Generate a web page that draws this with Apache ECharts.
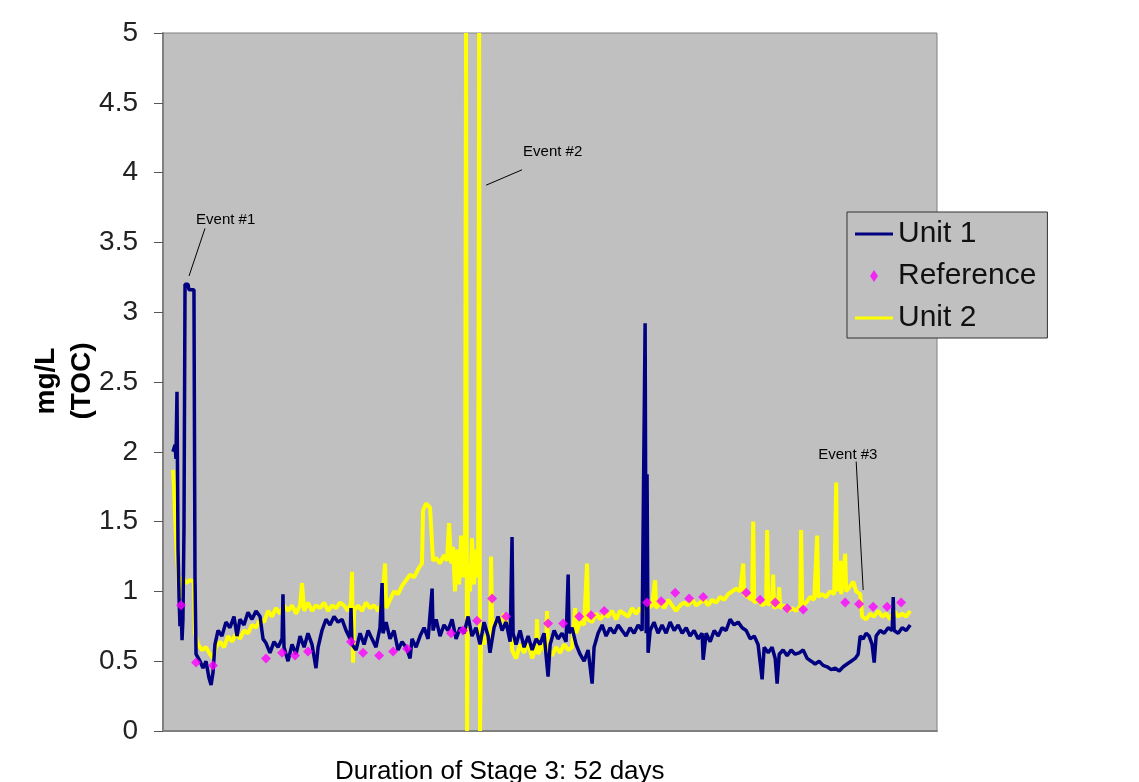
<!DOCTYPE html>
<html>
<head>
<meta charset="utf-8">
<title>TOC Stage 3</title>
<script src="https://cdn.jsdelivr.net/npm/echarts@6/dist/echarts.min.js"></script>
<style>
  html, body { margin: 0; padding: 0; background: #fff; }
  #div_echarts { width: 1139px; height: 782px; }
</style>
</head>
<body>
<div id="div_echarts"></div>
<script>
// [day, mg/L]
var unit1 = [
  [0.67,2.00],[0.81,2.05],[0.87,1.95],[0.94,2.43],[1.01,1.30],[1.08,0.95],[1.14,0.75],[1.21,0.90],[1.28,0.65],[1.34,0.80],
  [1.41,1.45],[1.48,3.20],[1.68,3.20],[1.75,3.16],[2.08,3.16],[2.15,1.10],[2.22,0.55],[2.49,0.50],[2.69,0.45],[2.89,0.50],
  [3.09,0.38],[3.23,0.33],[3.36,0.42],[3.49,0.62],[3.70,0.72],[3.96,0.68],[4.23,0.78],[4.50,0.74],[4.77,0.82],[4.97,0.68],
  [5.17,0.80],[5.44,0.76],[5.71,0.85],[5.98,0.80],[6.25,0.86],[6.52,0.82],[6.72,0.66],[6.92,0.63],[7.19,0.56],[7.46,0.64],
  [7.73,0.60],[8.00,0.66],[8.06,0.98],[8.13,0.60],[8.40,0.50],[8.67,0.62],[8.94,0.55],[9.21,0.68],[9.48,0.60],[9.74,0.70],
  [10.01,0.62],[10.28,0.45],[10.42,0.60],[10.68,0.72],[10.95,0.80],[11.22,0.76],[11.49,0.82],[11.76,0.78],[12.03,0.80],[12.30,0.72],
  [12.57,0.66],[12.63,0.88],[12.70,0.62],[12.97,0.58],[13.24,0.70],[13.51,0.62],[13.78,0.72],[14.04,0.66],[14.31,0.60],[14.58,0.74],
  [14.72,1.06],[14.78,0.70],[14.99,0.78],[15.25,0.66],[15.52,0.72],[15.79,0.58],[16.06,0.64],[16.33,0.60],[16.60,0.52],[16.73,0.66],
  [17.00,0.60],[17.27,0.68],[17.54,0.74],[17.81,0.66],[18.08,1.02],[18.14,0.72],[18.35,0.80],[18.61,0.68],[18.88,0.76],[19.15,0.72],
  [19.42,0.80],[19.69,0.66],[19.96,0.74],[20.23,0.70],[20.50,0.82],[20.76,0.68],[21.03,0.74],[21.30,0.62],[21.57,0.78],[21.84,0.68],
  [21.97,0.56],[22.24,0.74],[22.51,0.82],[22.78,0.72],[23.05,0.78],[23.32,0.64],[23.45,1.39],[23.52,0.70],[23.72,0.62],[23.99,0.72],
  [24.26,0.60],[24.53,0.68],[24.80,0.58],[25.07,0.66],[25.33,0.62],[25.60,0.70],[25.87,0.39],[26.01,0.62],[26.28,0.72],[26.54,0.66],
  [26.81,0.70],[27.08,0.64],[27.22,1.12],[27.28,0.70],[27.48,0.74],[27.75,0.62],[28.02,0.55],[28.29,0.50],[28.56,0.58],[28.83,0.34],
  [28.96,0.60],[29.23,0.70],[29.50,0.76],[29.77,0.68],[30.04,0.74],[30.31,0.70],[30.58,0.76],[30.84,0.72],[31.11,0.68],[31.38,0.74],
  [31.65,0.70],[31.92,0.76],[32.19,0.72],[32.39,2.92],[32.46,0.70],[32.52,1.84],[32.59,0.56],[32.73,0.72],[32.99,0.78],[33.26,0.70],
  [33.53,0.76],[33.80,0.70],[34.07,0.78],[34.34,0.72],[34.61,0.76],[34.88,0.70],[35.15,0.74],[35.41,0.68],[35.68,0.72],[35.95,0.66],
  [36.22,0.70],[36.29,0.51],[36.49,0.70],[36.76,0.64],[37.03,0.72],[37.30,0.68],[37.56,0.74],[37.83,0.72],[38.10,0.80],[38.37,0.76],
  [38.64,0.78],[38.91,0.74],[39.18,0.72],[39.45,0.66],[39.72,0.68],[39.98,0.62],[40.25,0.37],[40.39,0.60],[40.66,0.56],[40.92,0.60],
  [41.13,0.52],[41.26,0.34],[41.40,0.55],[41.66,0.58],[41.93,0.54],[42.20,0.58],[42.47,0.55],[42.74,0.56],[43.01,0.58],[43.28,0.52],
  [43.55,0.50],[43.81,0.48],[44.08,0.50],[44.35,0.47],[44.62,0.46],[44.89,0.44],[45.16,0.45],[45.43,0.43],[45.70,0.46],[45.96,0.48],
  [46.23,0.50],[46.50,0.52],[46.70,0.55],[46.84,0.68],[47.04,0.66],[47.24,0.70],[47.44,0.68],[47.64,0.62],[47.78,0.49],[47.91,0.68],
  [48.18,0.72],[48.45,0.70],[48.72,0.74],[48.99,0.72],[49.06,0.96],[49.12,0.72],[49.39,0.70],[49.66,0.74],[49.93,0.72],[50.20,0.76]
];

var unit2 = [
  [0.67,1.87],[0.74,1.75],[0.81,1.55],[0.87,1.40],[0.94,1.25],[1.01,1.15],[1.08,1.00],[1.14,0.95],[1.21,1.08],[1.34,1.10],
  [1.55,1.06],[1.81,1.08],[2.08,1.07],[2.15,0.70],[2.35,0.62],[2.62,0.58],[2.89,0.60],[3.16,0.55],[3.36,0.52],[3.56,0.60],
  [3.83,0.64],[4.10,0.60],[4.37,0.68],[4.64,0.64],[4.91,0.70],[5.17,0.66],[5.44,0.72],[5.71,0.70],[5.98,0.76],[6.25,0.74],
  [6.52,0.80],[6.79,0.78],[7.06,0.86],[7.32,0.82],[7.59,0.88],[7.86,0.84],[8.13,0.90],[8.40,0.86],[8.67,0.90],[8.94,0.84],
  [9.21,0.90],[9.34,1.06],[9.48,0.86],[9.74,0.92],[10.01,0.86],[10.28,0.90],[10.55,0.88],[10.82,0.92],[11.09,0.86],[11.36,0.90],
  [11.63,0.88],[11.89,0.92],[12.16,0.90],[12.43,0.86],[12.63,0.92],[12.70,1.14],[12.77,0.49],[12.84,0.86],[13.10,0.90],[13.37,0.86],
  [13.64,0.92],[13.91,0.88],[14.18,0.90],[14.45,0.86],[14.72,0.92],[14.92,1.20],[14.99,0.88],[15.25,0.94],[15.52,1.00],[15.79,0.98],
  [16.06,1.04],[16.33,1.08],[16.60,1.12],[16.87,1.10],[17.14,1.16],[17.40,1.20],[17.47,1.58],[17.67,1.63],[17.94,1.60],[18.14,1.22],
  [18.35,1.24],[18.61,1.20],[18.88,1.26],[19.08,1.22],[19.22,1.49],[19.35,1.20],[19.49,1.32],[19.62,1.00],[19.76,1.30],[19.89,1.05],
  [20.03,1.40],[20.16,1.10],[20.29,1.25],[20.36,5.00],[20.43,0.00],[20.50,1.20],[20.63,1.00],[20.76,1.38],[20.90,1.05],[21.03,1.30],
  [21.17,1.10],[21.24,5.00],[21.30,0.00],[21.37,0.72],[21.57,0.62],[21.77,0.70],[21.97,0.60],[22.04,1.25],[22.11,0.72],[22.38,0.80],
  [22.65,0.76],[22.92,0.84],[23.18,0.74],[23.39,0.78],[23.45,0.58],[23.72,0.52],[23.99,0.62],[24.26,0.56],[24.53,0.64],[24.80,0.52],
  [25.07,0.60],[25.13,0.80],[25.20,0.55],[25.47,0.62],[25.74,0.56],[25.80,0.86],[25.87,0.60],[26.14,0.54],[26.41,0.60],[26.68,0.56],
  [26.95,0.62],[27.22,0.58],[27.48,0.60],[27.69,0.88],[27.75,0.70],[28.02,0.78],[28.29,0.76],[28.49,1.20],[28.56,0.80],[28.83,0.78],
  [29.10,0.84],[29.37,0.80],[29.64,0.84],[29.90,0.82],[30.17,0.86],[30.44,0.80],[30.71,0.86],[30.98,0.84],[31.25,0.82],[31.52,0.88],
  [31.79,0.84],[32.05,0.88],[32.32,0.84],[32.59,0.88],[32.86,0.90],[33.06,1.08],[33.13,0.88],[33.40,0.92],[33.67,0.88],[33.94,0.94],
  [34.20,0.90],[34.47,0.86],[34.74,0.90],[35.01,0.92],[35.28,0.90],[35.55,0.94],[35.82,0.90],[36.09,0.92],[36.36,0.94],[36.62,0.90],
  [36.89,0.94],[37.16,0.92],[37.43,0.96],[37.70,0.94],[37.97,0.98],[38.24,1.00],[38.51,1.02],[38.77,1.00],[38.98,1.20],[39.04,0.98],
  [39.31,0.96],[39.58,0.94],[39.65,1.50],[39.72,0.92],[39.98,0.94],[40.25,0.90],[40.52,0.92],[40.59,1.44],[40.66,0.90],[40.92,0.94],
  [40.99,1.12],[41.06,0.88],[41.33,0.90],[41.40,1.03],[41.46,0.88],[41.73,0.90],[42.00,0.86],[42.27,0.88],[42.54,0.86],[42.81,0.90],
  [42.87,1.44],[42.94,0.90],[43.21,0.92],[43.48,0.96],[43.75,0.94],[43.95,1.40],[44.02,0.96],[44.28,0.98],[44.55,0.96],[44.82,1.00],
  [45.09,0.98],[45.23,1.78],[45.29,1.00],[45.49,1.22],[45.56,0.98],[45.83,1.27],[45.90,1.00],[46.17,1.04],[46.37,1.07],[46.57,1.00],
  [46.84,0.98],[46.97,0.82],[47.24,0.80],[47.51,0.84],[47.78,0.82],[48.05,0.86],[48.32,0.82],[48.59,0.84],[48.85,0.80],[49.12,0.86],
  [49.39,0.82],[49.66,0.84],[49.93,0.82],[50.20,0.86]
];

var reference = [
  [1.21,0.90],[2.22,0.49],[3.36,0.47],[6.92,0.52],[8.00,0.56],[8.87,0.54],[9.74,0.57],[12.63,0.64],[13.44,0.56],[14.52,0.54],
  [15.46,0.57],[16.40,0.59],[19.35,0.70],[20.16,0.72],[21.10,0.79],[22.11,0.95],[23.05,0.82],[25.87,0.77],[26.88,0.77],[27.96,0.82],
  [28.76,0.83],[29.64,0.86],[32.52,0.92],[33.47,0.93],[34.41,0.99],[35.35,0.95],[36.29,0.96],[39.18,0.99],[40.12,0.94],[41.13,0.92],
  [41.93,0.88],[43.01,0.87],[45.83,0.92],[46.77,0.91],[47.71,0.89],[48.65,0.89],[49.59,0.92]
];

var seriesNames = ['Unit 1', 'Reference', 'Unit 2'];

// event notes: text anchor, leader line start, leader line end (data units)
var events = [
  { text: 'Event #1', at: [2.22, 3.66], from: [2.82, 3.60], to: [1.75, 3.26] },
  { text: 'Event #2', at: [24.19, 4.15], from: [24.12, 4.02], to: [21.71, 3.91] },
  { text: 'Event #3', at: [44.02, 1.98], from: [46.57, 1.93], to: [47.04, 1.01] }
];

var FONT = '"Liberation Sans", Arial, sans-serif';

var myChart = echarts.init(document.getElementById('div_echarts'));

var option = {
    animation: false,
    backgroundColor: '#fff',
    grid: {
        left: 163, right: 202, top: 33, bottom: 51,
        show: true,
        backgroundColor: '#c0c0c0',
        borderColor: '#808080',
        borderWidth: 1
    },
    legend: {
        orient: 'vertical',
        left: 847,
        top: 212,
        padding: [7, 11, 5, 8],
        itemGap: 12,
        itemWidth: 38,
        itemHeight: 12,
        backgroundColor: '#c0c0c0',
        borderColor: '#333',
        borderWidth: 1,
        borderRadius: 0,
        textStyle: { fontFamily: FONT, fontSize: 30, color: '#111' },
        data: [
            { name: seriesNames[0], icon: 'path://M0,0L40,0L40,3L0,3Z' },
            { name: seriesNames[1], icon: 'path://M4,0L8,6L4,12L0,6Z' },
            { name: seriesNames[2], icon: 'path://M0,0L40,0L40,3L0,3Z' }
        ]
    },
    xAxis: {
        type: 'value',
        min: 0,
        max: 52,
        axisLine: { show: true, lineStyle: { color: '#808080', width: 2 } },
        axisTick: { show: false },
        axisLabel: { show: false },
        splitLine: { show: false }
    },
    yAxis: {
        type: 'value',
        min: 0,
        max: 5,
        interval: 0.5,
        axisLine: { show: true, lineStyle: { color: '#808080', width: 2 } },
        axisTick: { show: true, length: 9, lineStyle: { color: '#555' } },
        axisLabel: { margin: 25, fontFamily: FONT, fontSize: 28, color: '#222' },
        splitLine: { show: false }
    },
    series: [
        {
            name: seriesNames[2],
            type: 'line',
            data: unit2,
            symbol: 'none',
            clip: false,
            color: '#ffff00',
            lineStyle: { color: '#ffff00', width: 4 },
            z: 2
        },
        {
            name: seriesNames[0],
            type: 'line',
            data: unit1,
            symbol: 'none',
            color: '#000080',
            lineStyle: { color: '#000080', width: 3.5 },
            z: 3
        },
        {
            name: seriesNames[1],
            type: 'scatter',
            data: reference,
            symbol: 'diamond',
            symbolSize: [10, 10],
            color: '#ff00ff',
            itemStyle: { color: '#ff00ff' },
            z: 4
        }
    ]
};
myChart.setOption(option);

// axis titles and event notes, placed once the grid is laid out
var graphics = [
    {
        type: 'text', x: 46, y: 381, rotation: Math.PI / 2,
        style: { text: 'mg/L', font: 'bold 28px ' + FONT, fill: '#000', align: 'center', verticalAlign: 'middle' }
    },
    {
        type: 'text', x: 82, y: 381, rotation: Math.PI / 2,
        style: { text: '(TOC)', font: 'bold 28px ' + FONT, fill: '#000', align: 'center', verticalAlign: 'middle' }
    },
    {
        type: 'text', x: 335, y: 772,
        style: { text: 'Duration of Stage 3: 52 days', font: '26px ' + FONT, fill: '#000', align: 'left', verticalAlign: 'middle' }
    }
];
events.forEach(function (ev) {
    var p = myChart.convertToPixel({ gridIndex: 0 }, ev.at);
    var a = myChart.convertToPixel({ gridIndex: 0 }, ev.from);
    var b = myChart.convertToPixel({ gridIndex: 0 }, ev.to);
    graphics.push({
        type: 'line', z: 10,
        shape: { x1: a[0], y1: a[1], x2: b[0], y2: b[1] },
        style: { stroke: '#000', lineWidth: 1 }
    });
    graphics.push({
        type: 'text', z: 10, x: p[0], y: p[1],
        style: { text: ev.text, font: '15px ' + FONT, fill: '#000', align: 'left', verticalAlign: 'middle' }
    });
});
myChart.setOption({ graphic: graphics });
</script>
</body>
</html>
